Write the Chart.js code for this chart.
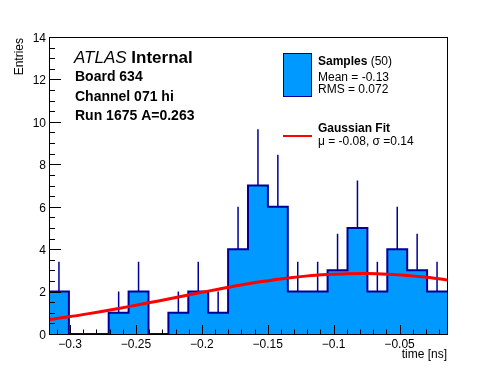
<!DOCTYPE html>
<html>
<head>
<meta charset="utf-8">
<script src="https://cdn.jsdelivr.net/npm/chart.js@4/dist/chart.umd.min.js"></script>
<style>
  html, body { margin: 0; padding: 0; background: #fff; }
  #wrap { width: 496px; height: 372px; }
</style>
</head>
<body>
<div id="wrap"><canvas id="histChart" width="496" height="372"></canvas></div>
<script>
// histogram bins (edges in ns) and entries per bin
const binEdges = [-0.316, -0.3009, -0.2858, -0.2707, -0.2556, -0.2405, -0.2254, -0.2103, -0.1952, -0.1801, -0.165,
                  -0.1499, -0.1348, -0.1197, -0.1046, -0.0895, -0.0744, -0.0593, -0.0442, -0.0291, -0.014];
const binCounts = [2, 0, 0, 1, 2, 0, 1, 2, 1, 4, 7, 6, 2, 2, 3, 5, 2, 4, 3, 2];
const binErrors = [1.41, 0, 0, 1, 1.41, 0, 1, 1.41, 1, 2, 2.65, 2.45, 1.41, 1.41, 1.73, 2.24, 1.41, 2, 1.73, 1.41];

// gaussian fit curve
const fitX = [-0.316, -0.3009, -0.2858, -0.2707, -0.2556, -0.2405, -0.2254, -0.2103, -0.1952, -0.1801, -0.165,
              -0.1499, -0.1348, -0.1197, -0.1046, -0.0895, -0.0744, -0.0593, -0.0442, -0.0291, -0.014];
const fitY = [0.68, 0.81, 0.96, 1.12, 1.29, 1.47, 1.65, 1.84, 2.02, 2.2, 2.37,
              2.51, 2.64, 2.74, 2.8, 2.84, 2.85, 2.82, 2.76, 2.67, 2.55];

// axis ticks
const xTickValues = [-0.3, -0.25, -0.2, -0.15, -0.1, -0.05];
const xTickLabels = ['\u22120.3', '\u22120.25', '\u22120.2', '\u22120.15', '\u22120.1', '\u22120.05'];
const yTickValues = [0, 2, 4, 6, 8, 10, 12, 14];
const yTickLabels = ['0', '2', '4', '6', '8', '10', '12', '14'];

const FONT = '"Liberation Sans", Arial, Helvetica, sans-serif';
const FILL = '#0099ff';
const LINE = '#000099';

// step outline: one point per left edge, plus the last right edge
const histPoints = binCounts.map((c, i) => ({ x: binEdges[i], y: c }));
histPoints.push({ x: binEdges[binEdges.length - 1], y: binCounts[binCounts.length - 1] });

// error bars: upward segments at bin centres, gaps between them
const errPoints = [];
binCounts.forEach((c, i) => {
    if (binErrors[i] <= 0) return;
    const xc = (binEdges[i] + binEdges[i + 1]) / 2;
    errPoints.push({ x: xc, y: c }, { x: xc, y: c + binErrors[i] }, { x: xc, y: null });
});

const fitPoints = fitX.map((x, i) => ({ x: x, y: fitY[i] }));

//draws the inward ticks, the frame, axis titles and the text boxes
const rootStyle = {
    id: 'rootStyle',
    afterDatasetsDraw(chart) {
        const ctx = chart.ctx;
        const a = chart.chartArea;
        const xs = chart.scales.x;
        const ys = chart.scales.y;
        ctx.save();
        ctx.strokeStyle = '#000';
        ctx.lineWidth = 1;

        // frame
        ctx.strokeRect(Math.round(a.left) + 0.5, Math.round(a.top) + 0.5,
                       Math.round(a.right - a.left), Math.round(a.bottom - a.top));

        ctx.beginPath();
        // x ticks: major every 0.05, minor every 0.01
        for (let k = -32; k <= -1; k++) {
            const v = k / 100;
            if (v < xs.min || v > xs.max) continue;
            const px = Math.round(xs.getPixelForValue(v)) + 0.5;
            const len = (k % 5 === 0) ? 9 : 4.5;
            ctx.moveTo(px, a.bottom);
            ctx.lineTo(px, a.bottom - len);
        }
        // y ticks: major every 2, minor every 0.5
        for (let k = 0; k <= 28; k++) {
            const v = k / 2;
            const py = Math.round(ys.getPixelForValue(v)) + 0.5;
            const len = (k % 4 === 0) ? 12 : 6;
            ctx.moveTo(a.left, py);
            ctx.lineTo(a.left + len, py);
        }
        ctx.stroke();

        // axis titles
        ctx.fillStyle = '#000';
        ctx.font = '12px ' + FONT;
        ctx.textAlign = 'right';
        ctx.textBaseline = 'alphabetic';
        ctx.fillText('time [ns]', a.right, 358);
        ctx.save();
        ctx.translate(23, a.top + 1);
        ctx.rotate(-Math.PI / 2);
        ctx.fillText('Entries', 0, 0);
        ctx.restore();

        // ATLAS label block
        ctx.textAlign = 'left';
        ctx.font = 'italic 17px ' + FONT;
        ctx.fillText('ATLAS', 74, 63);
        const wAtlas = ctx.measureText('ATLAS ').width;
        ctx.font = 'bold 17px ' + FONT;
        ctx.fillText('Internal', 74 + wAtlas, 63);
        ctx.font = 'bold 14px ' + FONT;
        ctx.fillText('Board 634', 75, 81);
        ctx.fillText('Channel 071 hi', 75, 101);
        ctx.fillText('Run 1675 A=0.263', 75, 120);

        // legend: samples
        ctx.fillStyle = FILL;
        ctx.fillRect(283.5, 53.5, 28, 43);
        ctx.strokeStyle = LINE;
        ctx.strokeRect(283.5, 53.5, 28, 43);
        ctx.fillStyle = '#000';
        ctx.font = 'bold 12px ' + FONT;
        ctx.fillText('Samples', 318, 65);
        const wS = ctx.measureText('Samples').width;
        ctx.font = '12px ' + FONT;
        ctx.fillText(' (50)', 318 + wS, 65);
        ctx.fillText('Mean = -0.13', 318, 80.5);
        ctx.fillText('RMS = 0.072', 318, 93);

        // legend: fit
        ctx.strokeStyle = '#ff0000';
        ctx.lineWidth = 2;
        ctx.beginPath();
        ctx.moveTo(283, 136);
        ctx.lineTo(312, 136);
        ctx.stroke();
        ctx.font = 'bold 12px ' + FONT;
        ctx.fillText('Gaussian Fit', 318, 132);
        ctx.font = '12px ' + FONT;
        ctx.fillText('\u03bc = -0.08, \u03c3 =0.14', 318, 145);
        ctx.restore();
    }
};

const ctx = document.getElementById('histChart').getContext('2d');
new Chart(ctx, {
    type: 'line',
    data: {
        datasets: [
            {
                label: 'Gaussian Fit',
                data: fitPoints,
                borderColor: '#ff0000',
                borderWidth: 3,
                pointRadius: 0,
                tension: 0.3,
                fill: false,
                order: 0
            },
            {
                label: 'Samples',
                data: histPoints,
                stepped: 'before',
                borderColor: LINE,
                borderWidth: 2,
                backgroundColor: FILL,
                pointRadius: 0,
                fill: 'origin',
                order: 1
            },
            {
                label: 'errors',
                data: errPoints,
                borderColor: LINE,
                borderWidth: 1.5,
                pointRadius: 0,
                spanGaps: false,
                fill: false,
                order: 2
            }
        ]
    },
    options: {
        responsive: false,
        animation: false,
        events: [],
        layout: { padding: { top: 37, right: 49, bottom: 0, left: 0 } },
        plugins: { legend: { display: false }, tooltip: { enabled: false } },
        scales: {
            x: {
                type: 'linear',
                min: binEdges[0],
                max: binEdges[binEdges.length - 1],
                grid: { display: false, drawTicks: false },
                border: { display: false },
                afterBuildTicks: scale => { scale.ticks = xTickValues.map(v => ({ value: v })); },
                afterFit: scale => { scale.height = 38; },
                ticks: {
                    padding: 3,
                    maxRotation: 0,
                    autoSkip: false,
                    color: '#000',
                    font: { family: FONT, size: 12 },
                    callback: (value, index) => xTickLabels[index]
                }
            },
            y: {
                min: 0,
                max: 14,
                grid: { display: false, drawTicks: false },
                border: { display: false },
                afterBuildTicks: scale => { scale.ticks = yTickValues.map(v => ({ value: v })); },
                afterFit: scale => { scale.width = 49; },
                ticks: {
                    padding: 3,
                    labelOffset: 1.5,
                    autoSkip: false,
                    color: '#000',
                    font: { family: FONT, size: 12 },
                    callback: (value, index) => yTickLabels[index]
                }
            }
        }
    },
    plugins: [rootStyle]
});
</script>
</body>
</html>
